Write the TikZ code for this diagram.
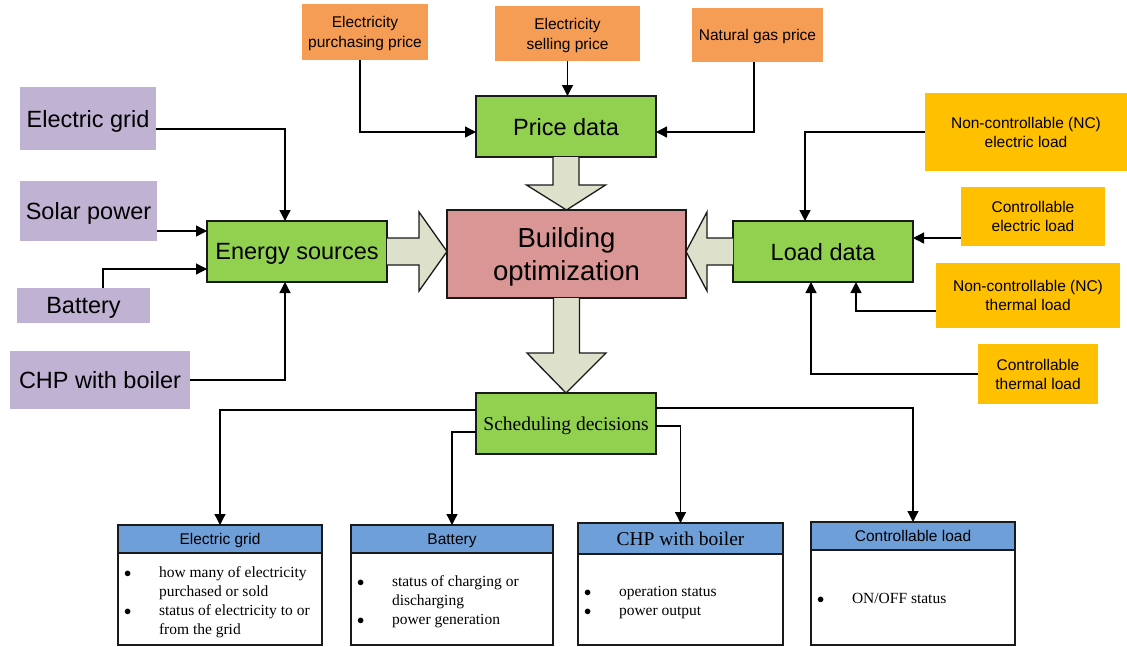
\documentclass[tikz,border=0pt]{standalone}
\usepackage{fontspec}
\setmainfont{Liberation Sans}
\newfontfamily\tnr{Liberation Serif}
\usetikzlibrary{arrows.meta}
\definecolor{orng}{HTML}{F69D55}
\definecolor{grn}{HTML}{92D050}
\definecolor{prpl}{HTML}{BFB2D3}
\definecolor{salm}{HTML}{DA9694}
\definecolor{gold}{HTML}{FFC000}
\definecolor{hdr}{HTML}{6F9FD8}
\definecolor{arrfill}{HTML}{DDE1CB}
\definecolor{edge}{HTML}{1A1A1A}
\newcommand{\bul}{$\bullet$}
\begin{document}
\begin{tikzpicture}[x=1pt,y=-1pt,
  every node/.style={inner sep=0pt,outer sep=0pt},
  bigtxt/.style={font=\fontsize{23.5}{28}\selectfont,text depth=0pt},
  srcbox/.style={fill=prpl,bigtxt,align=center},
  pricebox/.style={fill=orng,font=\fontsize{15.5}{20}\selectfont,align=center,text depth=0pt},
  loadbox/.style={fill=gold,font=\fontsize{15.5}{19}\selectfont,align=center,text depth=0pt},
  greenbox/.style={draw=edge,line width=1.5pt,fill=grn,minimum width=180pt,minimum height=61pt,text depth=0pt},
  conn/.style={draw=black,line width=1.3pt,-{Triangle[length=11pt,width=11pt]}},
  barrow/.style={fill=arrfill,draw=edge,line width=1.3pt,line join=miter},
  outbox/.style={draw=edge,line width=1.3pt,fill=white},
  hdrbox/.style={draw=edge,line width=1.3pt,fill=hdr,font=\fontsize{15.5}{19}\selectfont,text depth=0pt},
  bodytxt/.style={anchor=west,font=\tnr\fontsize{15.5}{19}\selectfont}
]
\useasboundingbox (0,0) rectangle (1127,646);

% price inputs
\node[pricebox,minimum width=126pt,minimum height=56pt] (pp) at (365,32) {Electricity\\purchasing price};
\node[pricebox,minimum width=145pt,minimum height=55pt] (sp) at (567.5,33.5) {Electricity\\selling price};
\node[pricebox,minimum width=131pt,minimum height=54pt] (ng) at (757.5,35) {Natural gas price};

% central nodes
\node[greenbox,bigtxt] (price) at (566,126.5) {Price data};
\node[draw=edge,line width=1.5pt,fill=salm,minimum width=239pt,minimum height=88pt,
      font=\fontsize{27.5}{33}\selectfont,align=center,text depth=0pt] (build) at (566.5,254) {Building\\optimization};
\node[greenbox,bigtxt] (energy) at (297,251.5) {Energy sources};
\node[greenbox,bigtxt] (load) at (823,251.5) {Load data};
\node[greenbox,font=\tnr\fontsize{19.5}{23}\selectfont] (sched) at (566,423.5) {Scheduling decisions};

% sources
\node[srcbox,minimum width=136pt,minimum height=63pt] (egrid) at (88,118.5) {Electric grid};
\node[srcbox,minimum width=137pt,minimum height=60pt] (solar) at (88.5,211) {Solar power};
\node[srcbox,minimum width=133pt,minimum height=35pt] (battery) at (83.5,305.5) {Battery};
\node[srcbox,minimum width=180pt,minimum height=58pt] (chp) at (100,380) {CHP with boiler};

% loads
\node[loadbox,minimum width=202pt,minimum height=78pt] (ncel) at (1026,132) {Non-controllable (NC)\\electric load};
\node[loadbox,minimum width=144pt,minimum height=59pt] (cel) at (1033,216.5) {Controllable\\electric load};
\node[loadbox,minimum width=184pt,minimum height=65pt] (ncth) at (1028,295.5) {Non-controllable (NC)\\thermal load};
\node[loadbox,minimum width=120pt,minimum height=60pt] (cth) at (1038,374) {Controllable\\thermal load};

% block arrows
\filldraw[barrow] ([xshift=-13pt]price.south) -- ++(0,28) -- ++(-26.5,0) -- (build.north)
  -- ([xshift=39.5pt,yshift=-28pt]price.south) -- ++(-26.5,0) -- ++(0,-28);
\filldraw[barrow] ([yshift=13.5pt]energy.east) -- ++(32,0) -- ++(0,-26) -- (build.west |- energy.east)
  -- ([xshift=32pt,yshift=-39.5pt]energy.east) -- ++(0,-26) -- ++(-32,0);
\filldraw[barrow] ([yshift=13.5pt]load.west) -- ++(-26,0) -- ++(0,-26) -- (build.east |- load.west)
  -- ([xshift=-26pt,yshift=-39.5pt]load.west) -- ++(0,-26) -- ++(26,0);
\filldraw[barrow] ([xshift=-13pt]build.south) -- ++(0,55) -- ++(-26.5,0) -- (sched.north)
  -- ([xshift=39.5pt,yshift=-55pt]build.south) -- ++(-26.5,0) -- ++(0,-55);

% connectors to energy sources
\draw[conn] ([yshift=-10.5pt]egrid.east) -| ([xshift=-12pt]energy.north);
\draw[conn] ([yshift=-20pt]solar.east) -- ([yshift=20.5pt]energy.west);
\draw[conn] ([xshift=19.5pt]battery.north) |- ([yshift=-17.5pt]energy.west);
\draw[conn] (chp.east) -| ([xshift=-12pt]energy.south);

% connectors to price data
\draw[conn] ([xshift=-5pt]pp.south) |- ([yshift=-5.5pt]price.west);
\draw[conn] (sp.south) -- (sp.south |- price.north);
\draw[conn] ([xshift=-3.5pt]ng.south) |- ([yshift=-5.5pt]price.east);

% connectors to load data
\draw[conn] (ncel.west) -| ([xshift=-18pt]load.north);
\draw[conn] ([yshift=-21.5pt]cel.west) -- ([yshift=13.5pt]load.east);
\draw[conn] ([yshift=-15.5pt]ncth.west) -| ([xshift=33pt]load.south);
\draw[conn] (cth.west) -| ([xshift=-12pt]load.south);

% output boxes
\node[outbox,minimum width=204pt,minimum height=120pt] (eg2) at (220,585) {};
\node[hdrbox,minimum width=204pt,minimum height=28pt,anchor=north] (eg2h) at (eg2.north) {Electric grid};
\node[bodytxt] (eg2t) at (124,602) {\begin{tabular}{@{}p{35pt}@{}l@{}}\bul & how many of electricity\\ & purchased or sold\\ \bul & status of electricity to or\\ & from the grid\end{tabular}};

\node[outbox,minimum width=202pt,minimum height=120pt] (bat2) at (452,585) {};
\node[hdrbox,minimum width=202pt,minimum height=28pt,anchor=north] (bat2h) at (bat2.north) {Battery};
\node[bodytxt] (bat2t) at (357,602) {\begin{tabular}{@{}p{35pt}@{}l@{}}\bul & status of charging or\\ & discharging\\ \bul & power generation\end{tabular}};

\node[outbox,minimum width=205pt,minimum height=122pt] (chp2) at (680.5,584) {};
\node[hdrbox,minimum width=205pt,minimum height=31pt,anchor=north,font=\tnr\fontsize{19.5}{23}\selectfont] (chp2h) at (chp2.north) {CHP with boiler};
\node[bodytxt] (chp2t) at (584,602.5) {\begin{tabular}{@{}p{35pt}@{}l@{}}\bul & operation status\\ \bul & power output\end{tabular}};

\node[outbox,minimum width=204pt,minimum height=123pt] (cl2) at (913,583.5) {};
\node[hdrbox,minimum width=204pt,minimum height=28pt,anchor=north] (cl2h) at (cl2.north) {Controllable load};
\node[bodytxt] (cl2t) at (817,600) {\begin{tabular}{@{}p{35pt}@{}l@{}}\bul & ON/OFF status\end{tabular}};

% connectors from scheduling decisions
\draw[conn] ([yshift=13.5pt]sched.west) -| (eg2.north);
\draw[conn] ([yshift=-8.5pt]sched.west) -| (bat2.north);
\draw[conn] ([yshift=-2.5pt]sched.east) -| (chp2.north);
\draw[conn] ([yshift=15.5pt]sched.east) -| (cl2.north);
\end{tikzpicture}
\end{document}
